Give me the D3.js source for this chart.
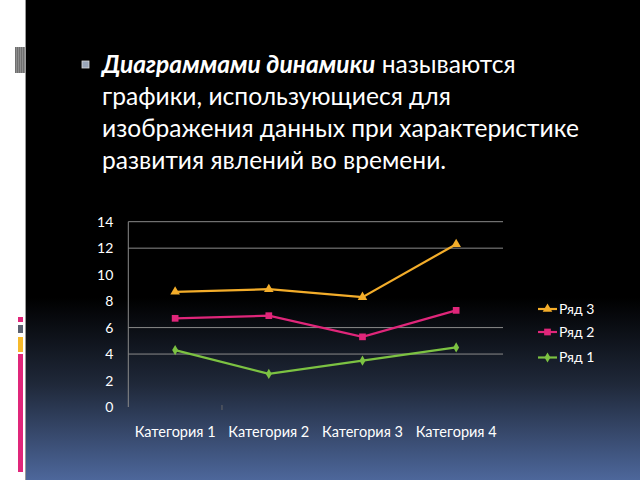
<!DOCTYPE html>
<html><head><meta charset="utf-8">
<script src="https://cdn.jsdelivr.net/npm/d3@7"></script>
<style>html,body{margin:0;padding:0;background:#fff;}svg{display:block;}</style>
</head><body>
<script>
const categories = ["Категория 1","Категория 2","Категория 3","Категория 4"];
const seriesNames = ["Ряд 1","Ряд 2","Ряд 3"];
const ryad1 = [4.3, 2.5, 3.5, 4.5];
const ryad2 = [6.7, 6.9, 5.3, 7.3];
const ryad3 = [8.7, 8.9, 8.3, 12.3];
const yTicks = [0,2,4,6,8,10,12,14];
const gridTicks = [4,6,12,14];
const titleLines = [
  [{t:"Диаграммами динамики", b:true},{t:" называются", b:false}],
  [{t:"графики, использующиеся для", b:false}],
  [{t:"изображения данных при характеристике", b:false}],
  [{t:"развития явлений во времени.", b:false}]
];

const W=640,H=480;
const svg=d3.select("body").append("svg").attr("width",W).attr("height",H);
const defs=svg.append("defs");
const g=defs.append("linearGradient").attr("id","bg").attr("x1",0).attr("y1",0).attr("x2",0).attr("y2",1);
g.append("stop").attr("offset","0.62").attr("stop-color","#000");
g.append("stop").attr("offset","0.8").attr("stop-color","#1f2839");
g.append("stop").attr("offset","1").attr("stop-color","#4d679b");
svg.append("rect").attr("x",0).attr("y",0).attr("width",W).attr("height",H).attr("fill","#fff");
svg.append("rect").attr("x",26).attr("y",0).attr("width",W-26).attr("height",H).attr("fill","url(#bg)");
svg.append("line").attr("x1",25.5).attr("x2",25.5).attr("y1",0).attr("y2",H).attr("stroke","#999").attr("stroke-width",1);

// striped block
const stripes=[0,1,2,3,4];
svg.append("rect").attr("x",15).attr("y",47).attr("width",10).attr("height",26).attr("fill","#222");
svg.selectAll(".st").data(stripes).enter().append("rect")
  .attr("x",d=>15.5+d*2).attr("y",47).attr("width",1.2).attr("height",26).attr("fill","#bbb");
// bottom colored bars
const decos=[{y:317,h:5,c:"#e0267a"},{y:325,h:8,c:"#5b6170"},{y:337,h:15,c:"#f6b92b"},{y:354,h:118,c:"#e0267a"}];
svg.selectAll(".dc").data(decos).enter().append("rect")
  .attr("x",18).attr("y",d=>d.y).attr("width",5).attr("height",d=>d.h).attr("fill",d=>d.c);

// title
svg.append("rect").attr("x",82).attr("y",61).attr("width",7).attr("height",7).attr("fill","#9aa6b8").attr("stroke","#ddd").attr("stroke-width",0.8);
const tt=svg.append("text").attr("font-family","Lato, 'Open Sans', sans-serif").attr("font-size",24.6).attr("fill","#fff");
titleLines.forEach((line,i)=>{
  const tx=tt.append("tspan").attr("x",102).attr("y",73+i*32);
  line.forEach((s,j)=>{
    const sp= j===0 ? tx : tt.append("tspan");
    sp.text(s.t);
    if(s.b){sp.attr("font-weight","bold").attr("font-style","italic");}
  });
});

// chart
const x0=128.3,x1=503,yTop=221.7,yBot=407;
const x=d3.scaleBand().domain(categories).range([x0,x1]);
const y=d3.scaleLinear().domain([0,14]).range([yBot,yTop]);
const ch=svg.append("g");
ch.selectAll(".grid").data(gridTicks).enter().append("line")
  .attr("x1",x0).attr("x2",x1).attr("y1",d=>y(d)).attr("y2",d=>y(d))
  .attr("stroke","#8a8a8a").attr("stroke-width",1);
ch.append("line").attr("x1",x0).attr("x2",x0).attr("y1",yTop).attr("y2",yBot).attr("stroke","#8a8a8a");
const yAxis=d3.axisLeft(y).tickValues(yTicks).tickSize(0).tickPadding(15);
const ya=ch.append("g").attr("transform",`translate(${x0},0)`).call(yAxis);
ya.select(".domain").remove();
ya.selectAll("text").attr("fill","#fff").attr("font-size",14).attr("font-family","Lato, sans-serif");
const xAxis=d3.axisBottom(x).tickSize(0).tickPadding(20);
const xa=ch.append("g").attr("transform",`translate(0,${yBot})`).call(xAxis);
xa.select(".domain").remove();
xa.selectAll("text").attr("fill","#fff").attr("font-size",14.5).attr("font-family","Lato, sans-serif");
ch.selectAll(".xt").data(categories.slice(1,2)).enter().append("line")
  .attr("x1",d=>x(d)).attr("x2",d=>x(d)).attr("y1",yBot-2).attr("y2",yBot+3).attr("stroke","#666");

const series=[
  {name:seriesNames[2],vals:ryad3,color:"#f3ad2a",sym:d3.symbolTriangle,size:40},
  {name:seriesNames[1],vals:ryad2,color:"#e0267a",sym:d3.symbolSquare,size:45},
  {name:seriesNames[0],vals:ryad1,color:"#7cc242",sym:d3.symbolDiamond,size:30}
];
const cx=c=>x(c)+x.bandwidth()/2;
const line=d3.line().x((d,i)=>cx(categories[i])).y(d=>y(d));
series.forEach(s=>{
  ch.append("path").datum(s.vals).attr("d",line).attr("fill","none").attr("stroke",s.color).attr("stroke-width",2.2);
  ch.selectAll(null).data(s.vals).enter().append("path")
    .attr("d",d3.symbol().type(s.sym).size(s.size))
    .attr("transform",(d,i)=>`translate(${cx(categories[i])},${y(d)})`).attr("fill",s.color);
});

// legend
const lg=svg.append("g");
const ly=[309,332,357.5];
series.forEach((s,i)=>{
  lg.append("line").attr("x1",538).attr("x2",557).attr("y1",ly[i]).attr("y2",ly[i]).attr("stroke",s.color).attr("stroke-width",2.2);
  lg.append("path").attr("d",d3.symbol().type(s.sym).size(s.size)).attr("transform",`translate(547.5,${ly[i]})`).attr("fill",s.color);
  lg.append("text").attr("x",559).attr("y",ly[i]).attr("dy","0.35em").attr("fill","#fff")
    .attr("font-size",14).attr("font-family","Lato, sans-serif").text(s.name);
});
</script>
</body></html>
